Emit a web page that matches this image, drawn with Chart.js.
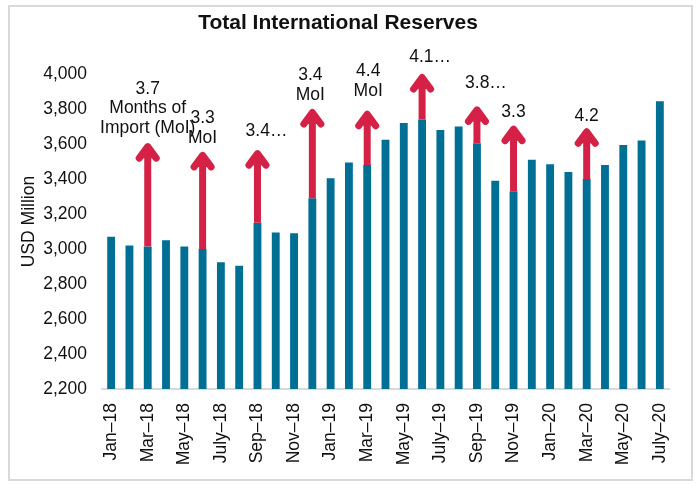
<!DOCTYPE html>
<html>
<head>
<meta charset="utf-8">
<script src="https://cdn.jsdelivr.net/npm/chart.js@4/dist/chart.umd.min.js"></script>
<style>
  html, body { margin: 0; padding: 0; background: #fff; }
  #wrap { width: 697px; height: 484px; }
</style>
</head>
<body>
<div id="wrap"><canvas id="c" width="697" height="484"></canvas></div>
<script>
// Monthly categories
const months = [
  'Jan–18','Feb–18','Mar–18','Apr–18','May–18','Jun–18','July–18','Aug–18','Sep–18','Oct–18','Nov–18','Dec–18',
  'Jan–19','Feb–19','Mar–19','Apr–19','May–19','Jun–19','July–19','Aug–19','Sep–19','Oct–19','Nov–19','Dec–19',
  'Jan–20','Feb–20','Mar–20','Apr–20','May–20','Jun–20','July–20'
];

// Total international reserves, USD million
const reserves = [
  3070, 3020, 3015, 3050, 3015, 3000, 2925, 2905, 3150, 3095, 3090, 3290,
  3405, 3495, 3480, 3625, 3720, 3740, 3680, 3700, 3605, 3390, 3330, 3510,
  3485, 3440, 3400, 3480, 3595, 3620, 3845
];

// Y axis ticks
const yTicks = [2200, 2400, 2600, 2800, 3000, 3200, 3400, 3600, 3800, 4000];

// Months-of-import callouts: month, arrow tip value, text lines
const calloutMonths = ['Mar–18', 'Jun–18', 'Sep–18', 'Dec–18', 'Mar–19', 'Jun–19', 'Sep–19', 'Nov–19', 'Mar–20'];
const calloutTips = [3605, 3555, 3565, 3800, 3790, 4000, 3815, 3705, 3690];
const calloutText = [
  ['3.7', 'Months of', 'Import (MoI)'],
  ['3.3', 'MoI'],
  ['3.4…'],
  ['3.4', 'MoI'],
  ['4.4', 'MoI'],
  ['4.1…'],
  ['3.8…'],
  ['3.3'],
  ['4.2']
];

const FONT = '"Liberation Sans", Arial, sans-serif';
const FSIZE = 17.5;
const BAR = '#006f94';
const ARROW = '#d42145';
const INK = '#111111';

// Small label nudges (pixels) for the callout texts: [dx, gap above arrow tip]
const calloutNudge = [[0, 15], [0, 14], [9, 19], [-2, 14], [1, 20], [8, 17], [9, 23], [0, 13], [0, 12]];

const frameAndTitle = {
  id: 'frameAndTitle',
  beforeDraw(chart) {
    const ctx = chart.ctx;
    ctx.save();
    ctx.fillStyle = '#fff';
    ctx.fillRect(0, 0, chart.width, chart.height);
    ctx.strokeStyle = '#d9d9d9';
    ctx.lineWidth = 2;
    ctx.strokeRect(9, 6, 683, 474);
    ctx.restore();
  },
  afterDraw(chart) {
    const ctx = chart.ctx;
    const area = chart.chartArea;
    ctx.save();
    ctx.fillStyle = INK;
    ctx.font = 'bold 21px ' + FONT;
    ctx.textAlign = 'center';
    ctx.textBaseline = 'middle';
    ctx.fillText('Total International Reserves', 338, 23);
    // value axis title
    ctx.font = FSIZE + 'px ' + FONT;
    ctx.translate(29, (area.top + area.bottom) / 2 - 10);
    ctx.rotate(-Math.PI / 2);
    ctx.fillText('USD Million', 0, 0);
    ctx.restore();
  }
};

const callouts = {
  id: 'callouts',
  afterDatasetsDraw(chart) {
    const ctx = chart.ctx;
    const xs = chart.scales.x, ys = chart.scales.y;
    ctx.save();
    calloutMonths.forEach((m, i) => {
      const idx = months.indexOf(m);
      const x = xs.getPixelForValue(idx);
      const y0 = ys.getPixelForValue(reserves[idx]);
      const y1 = ys.getPixelForValue(calloutTips[i]);
      ctx.strokeStyle = ARROW;
      ctx.lineWidth = 7;
      // shaft
      ctx.lineCap = 'butt';
      ctx.beginPath();
      ctx.moveTo(x, y0);
      ctx.lineTo(x, y1 + 5);
      ctx.stroke();
      // head
      ctx.lineCap = 'round';
      ctx.lineJoin = 'round';
      ctx.beginPath();
      ctx.moveTo(x - 8.5, y1 + 15);
      ctx.lineTo(x, y1 + 3.5);
      ctx.lineTo(x + 8.5, y1 + 15);
      ctx.stroke();
      ctx.fillStyle = ARROW;
      ctx.beginPath();
      ctx.moveTo(x - 8.5, y1 + 15);
      ctx.lineTo(x, y1 + 3.5);
      ctx.lineTo(x + 8.5, y1 + 15);
      ctx.closePath();
      ctx.fill();
      // text
      const lines = calloutText[i];
      const [dx, gap] = calloutNudge[i];
      ctx.fillStyle = INK;
      ctx.font = FSIZE + 'px ' + FONT;
      ctx.textAlign = 'center';
      ctx.textBaseline = 'middle';
      const lh = 19.5;
      lines.forEach((t, k) => {
        const yy = y1 - gap - (lines.length - 1 - k) * lh;
        ctx.fillText(t, x + dx, yy);
      });
    });
    ctx.restore();
  }
};

new Chart(document.getElementById('c'), {
  type: 'bar',
  data: {
    labels: months,
    datasets: [{
      data: reserves,
      backgroundColor: BAR,
      borderWidth: 0,
      barPercentage: 0.43,
      categoryPercentage: 1
    }]
  },
  options: {
    responsive: false,
    animation: false,
    devicePixelRatio: 1,
    layout: { padding: { top: 74, right: 28, bottom: 0, left: 0 } },
    plugins: {
      legend: { display: false },
      tooltip: { enabled: false },
      title: { display: false }
    },
    scales: {
      x: {
        grid: { display: false, drawTicks: false },
        border: { display: true, color: '#d9d9d9', width: 2 },
        ticks: {
          autoSkip: false,
          maxRotation: 90,
          minRotation: 90,
          padding: 14,
          color: INK,
          font: { family: FONT, size: FSIZE },
          callback: (v, i) => (i % 2 === 0 ? months[i] : '')
        },
        afterFit(scale) { scale.height = 95; }
      },
      y: {
        min: yTicks[0],
        max: yTicks[yTicks.length - 1],
        afterBuildTicks(scale) { scale.ticks = yTicks.map(v => ({ value: v })); },
        grid: { display: false, drawTicks: false },
        border: { display: false },
        ticks: {
          padding: 15,
          color: INK,
          font: { family: FONT, size: FSIZE },
          callback: v => v.toLocaleString('en-US')
        },
        afterFit(scale) { scale.width = 102; }
      }
    }
  },
  plugins: [frameAndTitle, callouts]
});
</script>
</body>
</html>
